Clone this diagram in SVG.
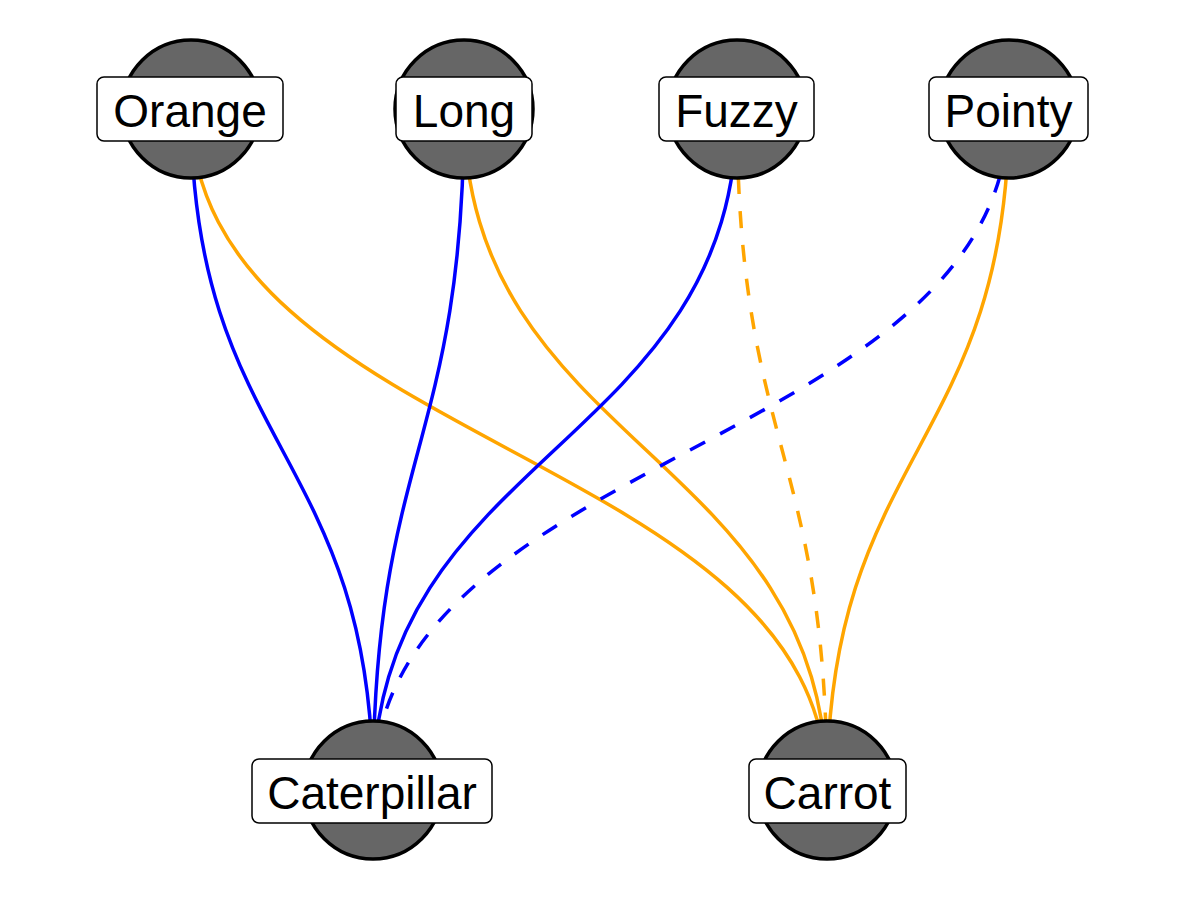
<svg xmlns="http://www.w3.org/2000/svg" width="1200" height="900" viewBox="0 0 1200 900">
<style>
.e{fill:none;stroke-width:3.5}
.b{stroke:#0000FF}
.o{stroke:#FFA500}
.d{stroke-dasharray:17 17}
.c{fill:#666666;stroke:#000;stroke-width:3.5}
.l{fill:#fff;stroke:#000;stroke-width:1.5}
.t{font-family:"Liberation Sans",Arial,sans-serif;font-size:46px;fill:#000;text-anchor:middle}
</style>
<rect width="1200" height="900" fill="#fff"/>
<g id="edges">
<path class="e b" d="M191,109 C191,449.5 373,449.5 373,790"/>
<path class="e o" d="M191,109 C191,449.5 827,449.5 827,790"/>
<path class="e b" d="M464,109 C464,449.5 373,449.5 373,790"/>
<path class="e o" d="M464,109 C464,449.5 827,449.5 827,790"/>
<path class="e b" d="M737,109 C737,449.5 373,449.5 373,790"/>
<path class="e o d" d="M737,109 C737,449.5 827,449.5 827,790"/>
<path class="e b d" d="M1009,109 C1009,449.5 373,449.5 373,790"/>
<path class="e o" d="M1009,109 C1009,449.5 827,449.5 827,790"/>
</g>
<g id="node-orange">
<circle class="c" cx="191" cy="109" r="69"/>
<rect class="l" x="97" y="77" width="186" height="64" rx="7"/>
<text class="t" x="190" y="127">Orange</text>
</g>
<g id="node-long">
<circle class="c" cx="464" cy="109" r="69"/>
<rect class="l" x="396" y="77" width="136" height="64" rx="7"/>
<text class="t" x="464" y="127">Long</text>
</g>
<g id="node-fuzzy">
<circle class="c" cx="737" cy="109" r="69"/>
<rect class="l" x="659" y="77" width="155" height="64" rx="7"/>
<text class="t" x="736.5" y="127">Fuzzy</text>
</g>
<g id="node-pointy">
<circle class="c" cx="1009" cy="109" r="69"/>
<rect class="l" x="929" y="77" width="159" height="64" rx="7"/>
<text class="t" x="1008.5" y="127">Pointy</text>
</g>
<g id="node-caterpillar">
<circle class="c" cx="373" cy="790" r="69"/>
<rect class="l" x="252" y="759" width="240" height="64" rx="7"/>
<text class="t" x="372" y="809">Caterpillar</text>
</g>
<g id="node-carrot">
<circle class="c" cx="827" cy="790" r="69"/>
<rect class="l" x="749" y="759" width="157" height="64" rx="7"/>
<text class="t" x="827.5" y="809">Carrot</text>
</g>
</svg>
